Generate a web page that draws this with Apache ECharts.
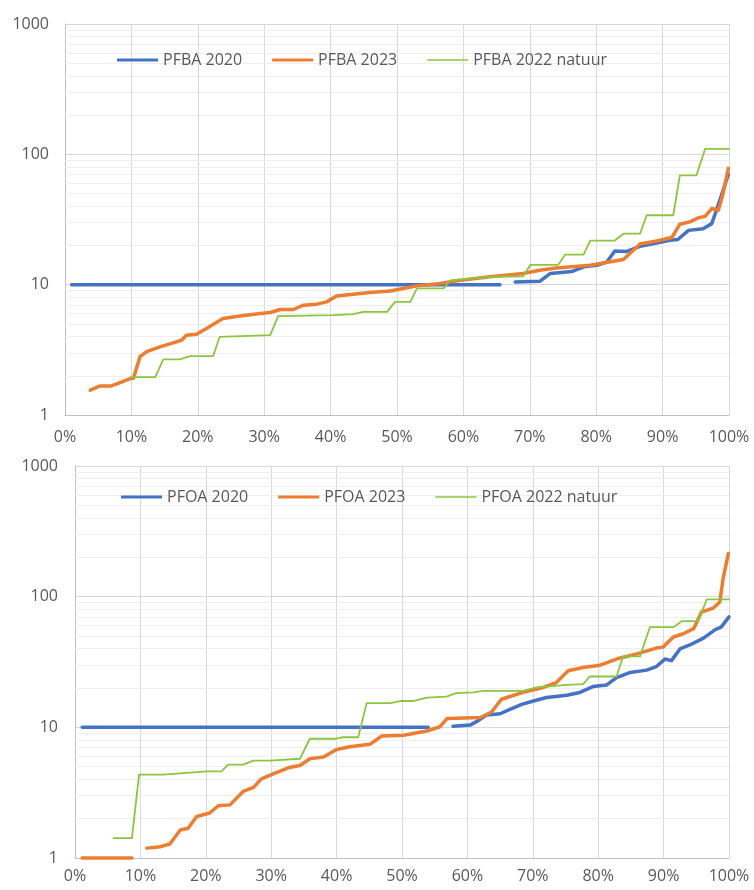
<!DOCTYPE html>
<html>
<head>
<meta charset="utf-8">
<script src="https://cdn.jsdelivr.net/npm/echarts@6/dist/echarts.min.js"></script>
<style>
  html, body { margin: 0; padding: 0; background: #fff; }
  #chart { width: 754px; height: 890px; }
</style>
</head>
<body>
<div id="chart"></div>
<script>
// Cumulative share of samples (x) against concentration (y, log scale)
const xTicks = [0, 0.1, 0.2, 0.3, 0.4, 0.5, 0.6, 0.7, 0.8, 0.9, 1];
const yTicks = [1, 10, 100, 1000];

// --- PFBA ---
const pfba2020Share = [0.01, 0.655, 0.666, 0.678, 0.715, 0.731, 0.763, 0.781, 0.801, 0.816, 0.828, 0.846, 0.866, 0.891, 0.911, 0.923, 0.939, 0.961, 0.974, 0.981, 0.991, 0.999];
const pfba2020Value = [10, 10, null, 10.5, 10.6, 12.2, 12.6, 13.7, 14.1, 14.9, 18.1, 18.0, 19.7, 20.9, 21.9, 22.2, 26.1, 26.9, 29.4, 37.2, 52.8, 70];

const pfba2023Share = [0.038, 0.053, 0.070, 0.083, 0.098, 0.103, 0.113, 0.123, 0.143, 0.163, 0.176, 0.183, 0.198, 0.213, 0.238, 0.264, 0.294, 0.309, 0.324, 0.344, 0.359, 0.379, 0.394, 0.409, 0.434, 0.459, 0.490, 0.509, 0.530, 0.565, 0.590, 0.640, 0.690, 0.715, 0.740, 0.791, 0.841, 0.856, 0.866, 0.891, 0.914, 0.926, 0.941, 0.954, 0.964, 0.974, 0.984, 0.991, 0.999];
const pfba2023Value = [1.55, 1.67, 1.67, 1.77, 1.90, 1.91, 2.80, 3.06, 3.33, 3.58, 3.76, 4.10, 4.17, 4.61, 5.50, 5.74, 6.01, 6.12, 6.45, 6.45, 6.96, 7.09, 7.38, 8.17, 8.45, 8.71, 8.95, 9.35, 9.79, 10.2, 10.7, 11.5, 12.2, 12.9, 13.4, 14.1, 15.6, 18.4, 20.5, 21.6, 23.0, 29.1, 30.3, 32.6, 33.4, 38.4, 37.2, 50, 78];

const pfba2022Share = [0.098, 0.136, 0.148, 0.173, 0.188, 0.223, 0.233, 0.309, 0.321, 0.404, 0.434, 0.449, 0.469, 0.485, 0.497, 0.520, 0.530, 0.570, 0.580, 0.616, 0.646, 0.690, 0.701, 0.743, 0.753, 0.781, 0.791, 0.828, 0.841, 0.866, 0.876, 0.916, 0.926, 0.951, 0.964, 1.0];
const pfba2022Value = [1.95, 1.95, 2.67, 2.67, 2.83, 2.83, 3.98, 4.10, 5.74, 5.83, 5.94, 6.19, 6.19, 6.19, 7.38, 7.38, 9.35, 9.35, 10.8, 11.2, 11.5, 11.6, 14.2, 14.2, 17.0, 17.0, 21.8, 21.8, 24.6, 24.6, 34.1, 34.1, 69, 69, 110, 110];

// --- PFOA ---
const pfoa2020Share = [0.011, 0.540, 0.560, 0.578, 0.604, 0.616, 0.629, 0.650, 0.665, 0.683, 0.701, 0.721, 0.752, 0.772, 0.792, 0.813, 0.828, 0.849, 0.874, 0.889, 0.902, 0.912, 0.925, 0.940, 0.961, 0.979, 0.988, 1.0];
const pfoa2020Value = [10, 10, null, 10.2, 10.4, 11.2, 12.4, 12.7, 13.7, 15.0, 15.9, 16.9, 17.6, 18.5, 20.5, 21.1, 24.0, 26.3, 27.4, 29.2, 33.3, 32.4, 39.8, 42.7, 48.2, 56.0, 58.5, 70];

const pfoa2023Share = [0.011, 0.087, 0.098, 0.110, 0.130, 0.145, 0.161, 0.173, 0.186, 0.206, 0.219, 0.237, 0.257, 0.273, 0.285, 0.303, 0.329, 0.344, 0.359, 0.380, 0.400, 0.420, 0.451, 0.469, 0.503, 0.523, 0.538, 0.558, 0.569, 0.620, 0.637, 0.652, 0.685, 0.716, 0.736, 0.754, 0.777, 0.803, 0.828, 0.859, 0.889, 0.899, 0.915, 0.930, 0.946, 0.958, 0.976, 0.986, 0.991, 0.999];
const pfoa2023Value = [1.0, 1.0, null, 1.19, 1.22, 1.28, 1.64, 1.69, 2.08, 2.21, 2.51, 2.55, 3.23, 3.47, 4.03, 4.40, 4.95, 5.10, 5.75, 5.92, 6.77, 7.11, 7.41, 8.58, 8.69, 9.1, 9.37, 10.1, 11.7, 11.9, 13.1, 16.4, 18.5, 20.2, 22.0, 27.1, 28.7, 29.9, 33.3, 36.5, 40.4, 41.1, 49.1, 52.0, 56.9, 76.3, 81.8, 90.9, 138, 214];

const pfoa2022Share = [0.059, 0.087, 0.098, 0.135, 0.171, 0.201, 0.224, 0.234, 0.257, 0.273, 0.298, 0.344, 0.359, 0.400, 0.410, 0.433, 0.446, 0.482, 0.497, 0.517, 0.538, 0.568, 0.583, 0.609, 0.624, 0.685, 0.706, 0.752, 0.777, 0.787, 0.828, 0.838, 0.864, 0.879, 0.915, 0.928, 0.953, 0.966, 1.0];
const pfoa2022Value = [1.42, 1.42, 4.35, 4.35, 4.48, 4.61, 4.61, 5.19, 5.19, 5.57, 5.57, 5.75, 8.18, 8.18, 8.4, 8.4, 15.3, 15.3, 15.9, 15.9, 16.9, 17.2, 18.3, 18.5, 19.0, 19.0, 20.2, 21.1, 21.4, 24.5, 24.5, 34.9, 34.9, 58.4, 58.4, 65, 65, 95.5, 95.5];

const topNames = ['PFBA 2020', 'PFBA 2023', 'PFBA 2022 natuur'];
const bottomNames = ['PFOA 2020', 'PFOA 2023', 'PFOA 2022 natuur'];

const BLUE = '#4472C4';
const ORANGE = '#ED7D31';
const GREEN = '#8CC63F';
const FONT = 'Open Sans';
const TEXT = '#595959';

function pairs(xs, ys) {
  return xs.map((x, i) => [x, ys[i] === null ? '-' : ys[i]]);
}

// faint log-minor gridlines (2..9 within each decade)
const minorLevels = [];
[1, 10, 100].forEach(d => { for (let k = 2; k <= 9; k++) minorLevels.push(d * k); });

function xAxisFor(gridIndex, margin) {
  return {
    type: 'value', gridIndex, min: 0, max: 1, interval: 0.1,
    axisLine: { show: true, lineStyle: { color: '#bfbfbf', width: 1 } },
    axisTick: { show: false },
    splitLine: { show: true, lineStyle: { color: '#d9d9d9', width: 1 } },
    axisLabel: {
      color: TEXT, fontFamily: FONT, fontSize: 16, margin,
      formatter: v => Math.round(v * 100) + '%'
    }
  };
}
function yAxisFor(gridIndex, margin) {
  return {
    type: 'log', logBase: 10, gridIndex, min: yTicks[0], max: yTicks[yTicks.length - 1],
    axisLine: { show: true, lineStyle: { color: '#bfbfbf', width: 1 } },
    axisTick: { show: false },
    splitLine: { show: true, lineStyle: { color: '#d9d9d9', width: 1 } },
    axisLabel: { color: TEXT, fontFamily: FONT, fontSize: 16, margin, formatter: v => String(Math.round(v)) }
  };
}
function minorSeries(idx) {
  return {
    type: 'line', xAxisIndex: idx, yAxisIndex: idx, data: [], z: 1, silent: true,
    markLine: {
      silent: true, symbol: ['none', 'none'], animation: false, z: 1,
      label: { show: false },
      lineStyle: { color: '#eeeeee', type: 'solid', width: 1 },
      emphasis: { disabled: true },
      data: minorLevels.map(v => ({ yAxis: v }))
    }
  };
}
function lineSeries(name, idx, xs, ys, color, width) {
  return {
    name, type: 'line', xAxisIndex: idx, yAxisIndex: idx,
    data: pairs(xs, ys), showSymbol: false, symbol: 'none',
    connectNulls: false, clip: false, z: 3,
    lineStyle: { color, width, cap: 'round', join: 'round' },
    itemStyle: { color },
    emphasis: { disabled: true }
  };
}

// legend keys: plain line swatches, thinner for the "natuur" series
const thickKey = 'path://M0,0h41v3h-41z';
const thinKey = 'path://M0,0h0.01v3h-0.01zM0,0.75h41v1.5h-41z';
function legendItems(names) {
  return names.map((n, i) => ({ name: n, icon: i === 2 ? thinKey : thickKey }));
}

const legendCommon = {
  itemWidth: 41, itemHeight: 3, itemGap: 30, padding: 0,
  textStyle: { color: TEXT, fontFamily: FONT, fontSize: 16 },
  selectedMode: false
};

const option = {
  animation: false,
  backgroundColor: '#ffffff',
  grid: [
    { left: 65, top: 24, width: 664, height: 391 },
    { left: 75, top: 466, width: 654, height: 392 }
  ],
  xAxis: [xAxisFor(0, 14), xAxisFor(1, 10)],
  yAxis: [yAxisFor(0, 16), yAxisFor(1, 17)],
  legend: [
    Object.assign({}, legendCommon, { data: legendItems(topNames), left: 117, top: 52 }),
    Object.assign({}, legendCommon, { data: legendItems(bottomNames), left: 121, top: 489 })
  ],
  series: [
    minorSeries(0),
    minorSeries(1),
    lineSeries(topNames[0], 0, pfba2020Share, pfba2020Value, BLUE, 3.5),
    lineSeries(topNames[1], 0, pfba2023Share, pfba2023Value, ORANGE, 3.5),
    lineSeries(topNames[2], 0, pfba2022Share, pfba2022Value, GREEN, 1.8),
    lineSeries(bottomNames[0], 1, pfoa2020Share, pfoa2020Value, BLUE, 3.5),
    lineSeries(bottomNames[1], 1, pfoa2023Share, pfoa2023Value, ORANGE, 3.5),
    lineSeries(bottomNames[2], 1, pfoa2022Share, pfoa2022Value, GREEN, 1.8)
  ]
};

const chart = echarts.init(document.getElementById('chart'), null, { renderer: 'canvas' });
chart.setOption(option);
</script>
</body>
</html>
